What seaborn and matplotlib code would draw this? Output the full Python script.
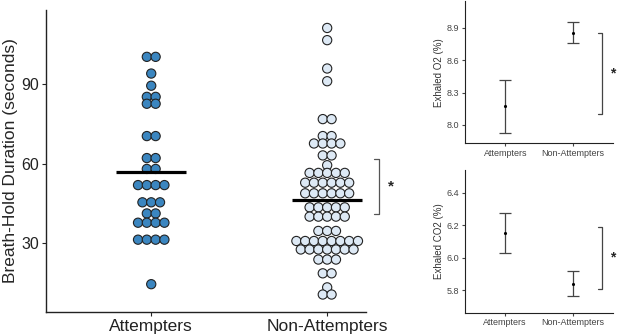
import matplotlib
matplotlib.use("Agg")
import matplotlib.pyplot as plt
import numpy as np
import pandas as pd
import seaborn as sns

###############################################################################
# Values.

groups = ["Attempters", "Non-Attempters"]

attempters = [100.3, 100.3, 94.0, 89.4, 85.2, 85.2, 82.6, 82.6, 70.4, 70.4,
              62.1, 62.1, 58.0, 58.0, 51.9, 51.9, 51.9, 51.9, 45.4, 45.4,
              45.4, 41.2, 41.2, 37.7, 37.7, 37.7, 37.7, 31.3, 31.3, 31.3,
              31.3, 14.5]

non_attempters = [111.2, 106.6, 95.9, 91.1, 76.8, 76.8, 70.4, 70.4, 67.6,
                  67.6, 67.6, 67.6, 63.1, 63.1, 59.4, 56.5, 56.5, 56.5, 56.5,
                  56.5, 52.8, 52.8, 52.8, 52.8, 52.8, 52.8, 48.8, 48.8, 48.8,
                  48.8, 48.8, 48.8, 43.5, 43.5, 43.5, 43.5, 43.5, 40.0, 40.0,
                  40.0, 40.0, 40.0, 34.6, 34.6, 34.6, 30.8, 30.8, 30.8, 30.8,
                  30.8, 30.8, 30.8, 30.8, 27.6, 27.6, 27.6, 27.6, 27.6, 27.6,
                  27.6, 23.8, 23.8, 23.8, 18.6, 18.6, 13.3, 10.6, 10.6]

o2_mean = [8.173, 8.857]
o2_low = [7.93, 8.757]
o2_high = [8.42, 8.955]

co2_mean = [6.151, 5.84]
co2_low = [6.028, 5.765]
co2_high = [6.275, 5.915]

###############################################################################
# Plot settings.

sns.set_style("ticks")
plt.rcParams["font.family"] = ["Liberation Sans", "DejaVu Sans"]
palette = ["#3B86C0", "#DDE9F5"]
dark = "#222222"
grey = "#444444"
dot_step = 0.05  # horizontal spacing of stacked dots, in category units

###############################################################################
# Centre-stacked dot plot layout: dots sharing a value sit side by side.

rows = []
for i, (g, vals) in enumerate(zip(groups, [attempters, non_attempters])):
    s = pd.Series(vals)
    for v, n in s.value_counts(sort=False).items():
        for k in range(n):
            rows.append({"group": g, "duration": v,
                         "xpos": i + (k - (n - 1) / 2) * dot_step})
df = pd.DataFrame(rows)

fig = plt.figure(figsize=(6.17, 3.36), dpi=100)
ax = fig.add_axes([0.074, 0.0714, 0.519, 0.899])
ax_o2 = fig.add_axes([0.7536, 0.5735, 0.24, 0.4235])
ax_co2 = fig.add_axes([0.753, 0.0693, 0.2405, 0.4247])

###############################################################################
# Breath-hold dot plot.

sns.scatterplot(data=df, x="xpos", y="duration", hue="group",
                hue_order=groups, palette=palette, s=44, edgecolor=dark,
                linewidth=0.8, legend=False, ax=ax, zorder=3)

means = df.groupby("group")["duration"].mean().reindex(groups)
for i, m in enumerate(means):
    ax.hlines(m, i - 0.2, i + 0.2, colors="black", linewidth=2.3, zorder=5)

# significance bracket
bx, by0, by1 = 1.295, 40.9, 61.6
ax.plot([bx - 0.03, bx, bx, bx - 0.03], [by0, by0, by1, by1], color="#555555",
        linewidth=0.9, clip_on=False)
ax.text(bx + 0.065, (by0 + by1) / 2, "*", fontsize=11, fontweight="bold",
        ha="center", va="center", clip_on=False)

ax.set_xlim(-0.6, 1.22)
ax.set_ylim(4, 118)
ax.set_xticks(range(len(groups)))
ax.set_xticklabels(groups)
ax.set_yticks([30, 60, 90])
ax.set_xlabel("")
ax.set_ylabel("Breath-Hold Duration (seconds)", fontsize=12.5, labelpad=2)
ax.tick_params(axis="x", labelsize=12.5, length=3, colors=dark, pad=2)
ax.tick_params(axis="y", labelsize=11.5, length=3, colors=dark, pad=2)
sns.despine(ax=ax)
for s in ["left", "bottom"]:
    ax.spines[s].set_linewidth(1.0)
    ax.spines[s].set_color(dark)

###############################################################################
# Gas panels.


def gas_panel(a, mean, low, high, ylim, ticks, label, br, star_y):
    x = np.arange(len(groups))
    mean = np.array(mean)
    err = [mean - np.array(low), np.array(high) - mean]
    a.errorbar(x, mean, yerr=err, fmt="none", ecolor=grey, elinewidth=0.9,
               capsize=4.5, capthick=0.9)
    sns.scatterplot(x=x, y=mean, color="black", s=5, linewidth=0, ax=a,
                    zorder=5)
    b0, b1 = br
    bxx = 1.44
    a.plot([bxx - 0.06, bxx, bxx, bxx - 0.06], [b0, b0, b1, b1],
           color=grey, linewidth=0.9, clip_on=False)
    a.text(1.6, star_y, "*", fontsize=10, fontweight="bold", ha="center",
           va="center", clip_on=False)
    a.set_xlim(-0.6, 1.6)
    a.set_ylim(*ylim)
    a.set_xticks(x)
    a.set_xticklabels(groups)
    a.set_yticks(ticks)
    a.set_ylabel(label, fontsize=7, color="#333333", labelpad=2)
    a.tick_params(labelsize=6.5, length=2, colors="#444444", pad=2)
    sns.despine(ax=a)
    for s in ["left", "bottom"]:
        a.spines[s].set_linewidth(0.8)
        a.spines[s].set_color(dark)


gas_panel(ax_o2, o2_mean, o2_low, o2_high, (7.83, 9.15),
          [8.0, 8.3, 8.6, 8.9], "Exhaled O2 (%)", (8.10, 8.857), 8.48)
gas_panel(ax_co2, co2_mean, co2_low, co2_high, (5.66, 6.54),
          [5.8, 6.0, 6.2, 6.4], "Exhaled CO2 (%)", (5.804, 6.186), 6.0)

fig.savefig("out.png", dpi=100)
